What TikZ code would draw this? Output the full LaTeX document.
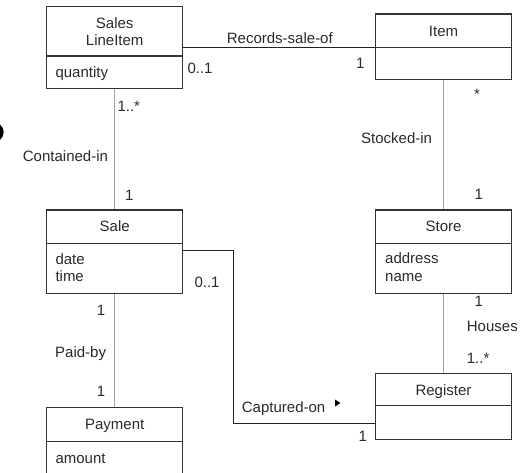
\documentclass[tikz,border=0pt]{standalone}
\usepackage{fontspec}
\setmainfont{Liberation Sans}
\definecolor{boxcol}{HTML}{333333}
\definecolor{txtcol}{HTML}{2A2A2A}
\definecolor{assoc}{HTML}{A0A0A0}
\definecolor{dark}{HTML}{222222}
\begin{document}
\begin{tikzpicture}[x=1pt,y=-1pt,
  cls/.style={draw=boxcol, line width=1.2pt, minimum width=136pt, inner sep=0pt, rectangle},
  divline/.style={draw=boxcol, line width=1.2pt},
  grayline/.style={draw=assoc, line width=1.6pt},
  darkline/.style={draw=dark, line width=1.3pt},
  lbl/.style={font=\fontsize{15}{17}\selectfont, text=txtcol, inner sep=0pt},
  lw/.style={lbl, anchor=base west},
  lc/.style={lbl, anchor=base},
]
\useasboundingbox (0,0) rectangle (522,472);
\clip (0,0) rectangle (522,472);

% stray fragment at left edge
\fill[black] (0,124.5) .. controls (5,129) and (5,135) .. (0,140) -- cycle;

% class boxes
\node[cls, minimum height=81.6pt] (sli) at (114.7,47.5) {};
\node[cls, minimum height=65.3pt] (item) at (443.5,46.65) {};
\node[cls, minimum height=83.3pt] (sale) at (114.7,251.65) {};
\node[cls, minimum height=83.3pt] (store) at (443.5,251.65) {};
\node[cls, minimum height=66pt] (reg) at (443.5,406.3) {};
\node[cls, minimum height=80pt] (pay) at (114.7,447.3) {};

% dividers
\draw[divline] (sli.west |- 0,56) -- (sli.east |- 0,56);
\draw[divline] (item.west |- 0,47.3) -- (item.east |- 0,47.3);
\draw[divline] (sale.west |- 0,243.5) -- (sale.east |- 0,243.5);
\draw[divline] (store.west |- 0,243.7) -- (store.east |- 0,243.7);
\draw[divline] (reg.west |- 0,405.7) -- (reg.east |- 0,405.7);
\draw[divline] (pay.west |- 0,441.3) -- (pay.east |- 0,441.3);

% class texts
\node[lc] (t1) at (114.7,28.3) {Sales};
\node[lc] (t2) at (114.7,45.8) {LineItem};
\node[lw] (t3) at (55.3,77) {quantity};
\node[lc] (t4) at (443.5,36.7) {Item};
\node[lc] (t5) at (114.7,231.7) {Sale};
\node[lw] (t6) at (55.3,264) {date};
\node[lw] (t7) at (55.3,281.7) {time};
\node[lc] (t8) at (443.5,231.7) {Store};
\node[lw] (t9) at (385,263.3) {address};
\node[lw] (t10) at (385,281.7) {name};
\node[lc] (t11) at (443.5,395) {Register};
\node[lc] (t12) at (114.7,429.3) {Payment};
\node[lw] (t13) at (55.3,463) {amount};

% associations
\draw[darkline] (sli.east |- 0,47.3) -- (item.west |- 0,47.3);
\draw[grayline] (sli.south -| 114.3,0) -- (sale.north -| 114.3,0);
\draw[grayline] (item.south) -- (store.north);
\draw[grayline] (store.south) -- (reg.north);
\draw[grayline] (sale.south -| 114.3,0) -- (pay.north -| 114.3,0);
\coordinate (bend) at (233.3,423.3);
\draw[darkline, line join=miter] (sale.east |- 0,250.7) -| (bend) -- (reg.west |- bend);

% association labels and multiplicities
\node[lw] (a1) at (226.7,43.5) {Records-sale-of};
\node[lw] (m1) at (187.3,73.3) {0..1};
\node[lw] (m2) at (356,68.3) {1};
\node[lw] (m3) at (117.3,111) {1..*};
\node[lw] (a2) at (22.7,161.5) {Contained-in};
\node[lw] (m4) at (125,200.7) {1};
\node[lw] (m5) at (474,99.5) {*};
\node[lw] (a3) at (361,143.3) {Stocked-in};
\node[lw] (m6) at (474.3,199) {1};
\node[lw] (m7) at (194.3,287.7) {0..1};
\node[lw] (m8) at (96.7,315) {1};
\node[lw] (a4) at (55,357.7) {Paid-by};
\node[lw] (m9) at (96.7,396) {1};
\node[lw] (m10) at (474.3,306) {1};
\node[lw] (a5) at (466.7,331) {Houses};
\node[lw] (m11) at (466.7,363.3) {1..*};
\node[lw] (a6) at (241.7,412.7) {Captured-on};
\fill[black] (335,399.5) -- (340.5,403) -- (335,406.5) -- cycle;
\node[lw] (m12) at (358.3,441.7) {1};
\end{tikzpicture}
\end{document}
